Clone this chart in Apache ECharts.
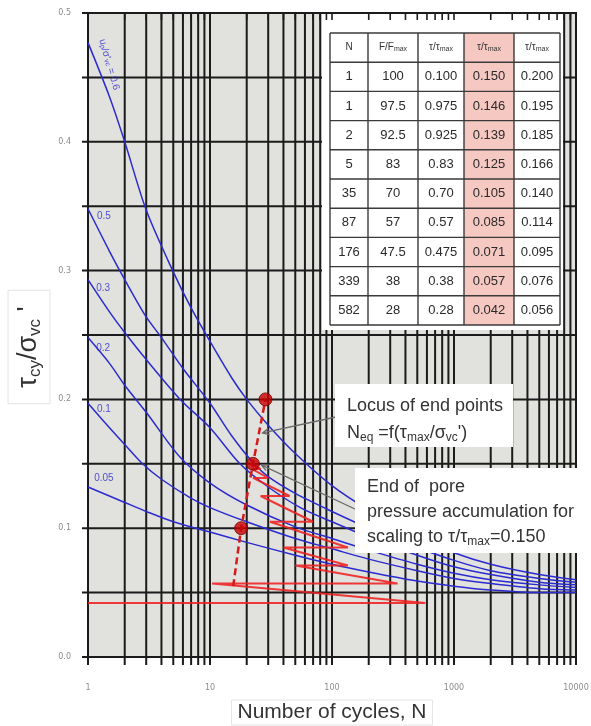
<!DOCTYPE html>
<html>
<head>
<meta charset="utf-8">
<script src="https://cdn.jsdelivr.net/npm/echarts@6/dist/echarts.min.js"></script>
<style>
  html, body { margin: 0; padding: 0; background: #fff; }
  #chart { width: 591px; height: 726px; }
</style>
</head>
<body>
<div id="chart"></div>
<script>
// ---- axis ranges and grid positions ----
const X_MIN = 1, X_MAX = 10000, Y_MIN = 0, Y_MAX = 0.5;
const xTickLabels = [1, 10, 100, 1000, 10000];
const xGridLines = [1, 2, 3, 4, 5, 6, 7, 8, 9,
                    10, 20, 30, 40, 50, 60, 70, 80, 90,
                    100, 200, 300, 400, 500, 600, 700, 800, 900,
                    1000, 2000, 3000, 4000, 5000, 6000, 7000, 8000, 9000, 10000];
const yGridLines = [0, 0.05, 0.1, 0.15, 0.2, 0.25, 0.3, 0.35, 0.4, 0.45, 0.5];

// ---- pore pressure contours  [N, tau_cy/sigma_vc'] ----
const contour06 = [[1,0.477],[1.5,0.435],[2,0.400],[3,0.347],[5,0.299],[7,0.271],[10,0.245],[15,0.217],[20,0.200],[30,0.180],[50,0.158],[100,0.133],[200,0.114],[500,0.093],[1000,0.081],[2000,0.072],[5000,0.064],[10000,0.060]];
const contour05 = [[1,0.348],[1.5,0.315],[2,0.293],[3,0.264],[4,0.248],[6,0.224],[10,0.197],[15,0.172],[22.5,0.151],[30,0.140],[50,0.127],[100,0.113],[200,0.100],[500,0.085],[1000,0.075],[2000,0.067],[5000,0.061],[10000,0.058]];
const contour03 = [[1,0.293],[1.5,0.268],[2,0.252],[3,0.231],[5.7,0.200],[10,0.178],[17.6,0.150],[30,0.132],[55,0.116],[100,0.105],[200,0.093],[500,0.079],[1000,0.070],[2000,0.064],[5000,0.058],[10000,0.056]];
const contour02 = [[1,0.248],[1.5,0.228],[2,0.211],[3,0.190],[5.7,0.155],[10,0.135],[20,0.118],[50,0.101],[100,0.092],[200,0.083],[500,0.072],[1000,0.065],[2000,0.060],[5000,0.056],[10000,0.054]];
const contour01 = [[1,0.197],[1.5,0.178],[2,0.165],[2.8,0.150],[4,0.138],[6.8,0.124],[10,0.116],[20,0.105],[50,0.092],[100,0.084],[200,0.076],[500,0.067],[1000,0.061],[2000,0.057],[5000,0.053],[10000,0.052]];
const contour005 = [[1,0.132],[2,0.120],[3,0.113],[5,0.105],[10,0.097],[20,0.089],[50,0.079],[100,0.072],[200,0.066],[500,0.059],[1000,0.055],[2000,0.052],[5000,0.050],[10000,0.050]];

// contour labels and where they sit
const contourLabelText = ['0.5', '0.3', '0.2', '0.1', '0.05'];
const contourLabelAt = [[1.35,0.342],[1.33,0.2865],[1.33,0.240],[1.35,0.192],[1.35,0.139]];
const topContourLabelAt = [1.49, 0.46];

// ---- load history scaled to tau/tau_max = 0.150 (zigzag accumulation path) ----
const pathN = [1, 582, 10.4, 345, 50, 135, 40, 135, 31, 70, 26, 45, 22.5, 30, 22, 26, 21.5, 22.5];
const pathV = [0.042, 0.042, 0.057, 0.057, 0.071, 0.071, 0.085, 0.085, 0.105, 0.105, 0.125, 0.125, 0.139, 0.139, 0.146, 0.146, 0.150, 0.150];

// ---- end points and their locus ----
const endN = [18, 22.5, 28.5];
const endV = [0.100, 0.150, 0.200];
const locusN = [15.5, 18, 22.5, 28.5];
const locusV = [0.055, 0.100, 0.150, 0.200];

// ---- load parcel table ----
const tableHead = ['N', 'F/F', 'τ/τ', 'τ/τ', 'τ/τ'];
const tableN = ['1', '1', '2', '5', '35', '87', '176', '339', '582'];
const tableF = ['100', '97.5', '92.5', '83', '70', '57', '47.5', '38', '28'];
const tableR100 = ['0.100', '0.975', '0.925', '0.83', '0.70', '0.57', '0.475', '0.38', '0.28'];
const tableR150 = ['0.150', '0.146', '0.139', '0.125', '0.105', '0.085', '0.071', '0.057', '0.042'];
const tableR200 = ['0.200', '0.195', '0.185', '0.166', '0.140', '0.114', '0.095', '0.076', '0.056'];

// ---- styles ----
const gridColor = '#1b1b1b';
const blue = '#2b2bd0';
const red = 'rgba(238,32,32,0.88)';
const textColor = '#333';
const FONT = 'Liberation Sans, Arial, sans-serif';

function vLine(params, api) {
  const n = api.value(0);
  const a = api.coord([n, Y_MAX]), b = api.coord([n, Y_MIN]);
  return { type: 'line', shape: { x1: a[0], y1: a[1], x2: b[0], y2: b[1] + 8 },
           style: { stroke: gridColor, lineWidth: 2 } };
}
function hLine(params, api) {
  const v = api.value(1);
  const a = api.coord([X_MIN, v]), b = api.coord([X_MAX, v]);
  return { type: 'line', shape: { x1: a[0] - 6, y1: a[1], x2: b[0] + 1, y2: b[1] },
           style: { stroke: gridColor, lineWidth: 2 } };
}
function topTick(params, api) {
  const n = api.value(0);
  const a = api.coord([n, Y_MAX]);
  return { type: 'line', shape: { x1: a[0], y1: a[1], x2: a[0], y2: a[1] + 7 },
           style: { stroke: gridColor, lineWidth: 1.6 } };
}

const contours = [contour06, contour05, contour03, contour02, contour01, contour005];

const series = [];
series.push({ type: 'custom', renderItem: vLine, data: xGridLines.map(n => [n, Y_MIN]),
              encode: { x: 0, y: 1 }, z: 2, silent: true, clip: false });
series.push({ type: 'custom', renderItem: hLine, data: yGridLines.map(v => [X_MIN, v]),
              encode: { x: 0, y: 1 }, z: 2, silent: true, clip: false });

contours.forEach(c => series.push({
  type: 'line', data: c, showSymbol: false, smooth: 0.3,
  lineStyle: { color: blue, width: 1.5 }, z: 4, silent: true
}));

series.push({ type: 'line', data: pathN.map((n, i) => [n, pathV[i]]), showSymbol: false,
              lineStyle: { color: red, width: 2 }, z: 6, silent: true });

series.push({ type: 'line', data: locusN.map((n, i) => [n, locusV[i]]), showSymbol: false,
              lineStyle: { color: '#d41a1a', width: 2.5, type: [7, 4] }, z: 7, silent: true });

series.push({ type: 'scatter', data: endN.map((n, i) => [n, endV[i]]), symbolSize: 13,
              itemStyle: { color: '#c80000', borderColor: '#7a0000', borderWidth: 1 }, z: 8, silent: true });

series.push({
  type: 'scatter', symbolSize: 0, z: 9, silent: true,
  data: contourLabelAt.map((p, i) => ({ value: p, label: { formatter: contourLabelText[i] } })),
  label: { show: true, position: 'inside', color: blue, fontSize: 10, fontFamily: FONT }
});
series.push({
  type: 'scatter', symbolSize: 0, z: 9, silent: true,
  data: [{ value: topContourLabelAt }],
  label: { show: true, position: 'inside', rotate: -74, color: blue, fontFamily: FONT,
           formatter: '{a|u}{s|p}{a|/σ\'}{s|vc}{a| = 0.6}',
           rich: { a: { fontSize: 10, color: blue, fontFamily: FONT },
                   s: { fontSize: 7, color: blue, fontFamily: FONT, verticalAlign: 'bottom' } } }
});

series.push({ type: 'custom', renderItem: topTick, data: xGridLines.map(n => [n, Y_MAX]),
              encode: { x: 0, y: 1 }, z: 25, silent: true, clip: false });
series.push({ type: 'custom', renderItem: hLine, data: [[X_MIN, Y_MAX]],
              encode: { x: 0, y: 1 }, z: 25, silent: true, clip: false });

const chart = echarts.init(document.getElementById('chart'));
chart.setOption({
  animation: false,
  backgroundColor: '#fff',
  grid: { left: 88, right: 15, top: 13, bottom: 69, containLabel: false, outerBoundsMode: 'none',
          show: true, backgroundColor: '#e1e1dd', borderWidth: 0 },
  xAxis: {
    type: 'log', logBase: 10, min: X_MIN, max: X_MAX,
    axisLine: { show: false }, axisTick: { show: false }, splitLine: { show: false },
    axisLabel: { fontSize: 8, color: '#8c8c8c', margin: 27, fontFamily: 'DejaVu Sans',
                 formatter: v => (xTickLabels.indexOf(Math.round(v)) >= 0 ? String(Math.round(v)) : '') },
    name: 'Number of cycles, N', nameLocation: 'middle', nameGap: 43,
    nameTextStyle: { fontSize: 21, color: textColor, fontFamily: FONT,
                     borderColor: '#e4e4e4', borderWidth: 1, padding: [2, 6, 2, 6] }
  },
  yAxis: {
    type: 'value', min: Y_MIN, max: Y_MAX, interval: 0.1,
    axisLine: { show: false }, axisTick: { show: false }, splitLine: { show: false },
    axisLabel: { fontSize: 8, color: '#8c8c8c', margin: 17, fontFamily: 'DejaVu Sans',
                 formatter: v => v.toFixed(1) }
  },
  series: series
});

// ---- y-axis title, table, annotation boxes and leader lines ----
const g = [];
g.push({ type: 'text', z: 22, x: 29, y: 347, rotation: Math.PI / 2,
         style: { text: '{m|τ}{s|cy}{m|/σ}{s|vc}{m| \'}', align: 'center', verticalAlign: 'middle',
                  textAlign: 'center', textVerticalAlign: 'middle',
                  borderColor: '#e4e4e4', borderWidth: 1, padding: [6, 16, 6, 16],
                  rich: { m: { fontSize: 27, fill: textColor, fontFamily: FONT, lineHeight: 30 },
                          s: { fontSize: 17, fill: textColor, fontFamily: FONT, verticalAlign: 'bottom', lineHeight: 18 } } } });

const colX = [330, 368, 418, 464, 514, 560];
const rowTop = 33, rowH = 29.2, rowCount = 10;
const tableCols = [tableN, tableF, tableR100, tableR150, tableR200];
g.push({ type: 'rect', z: 20, shape: { x: 322, y: 14, width: 241, height: 316 }, style: { fill: '#fff' } });
g.push({ type: 'rect', z: 20, shape: { x: colX[3], y: rowTop, width: colX[4] - colX[3], height: rowH * (rowCount) },
         style: { fill: '#f6c8c2' } });
for (let r = 0; r <= rowCount; r++) {
  const y = rowTop + r * rowH;
  g.push({ type: 'line', z: 21, shape: { x1: colX[0], y1: y, x2: colX[5], y2: y },
           style: { stroke: '#3a3a3a', lineWidth: 1.4 } });
}
colX.forEach(x => g.push({ type: 'line', z: 21,
  shape: { x1: x, y1: rowTop, x2: x, y2: rowTop + rowH * rowCount }, style: { stroke: '#3a3a3a', lineWidth: 1.4 } }));
const headRich = {
  a: { fontSize: 10, fill: textColor, fontFamily: FONT },
  s: { fontSize: 7, fill: textColor, fontFamily: FONT, verticalAlign: 'bottom' }
};
tableHead.forEach((h, c) => {
  const cx = (colX[c] + colX[c + 1]) / 2, cy = rowTop + rowH / 2;
  g.push({ type: 'text', z: 22, x: cx, y: cy,
           style: { text: c === 0 ? '{a|' + h + '}' : '{a|' + h + '}{s|max}', rich: headRich,
                    align: 'center', verticalAlign: 'middle', textAlign: 'center', textVerticalAlign: 'middle' } });
});
tableCols.forEach((col, c) => {
  col.forEach((t, r) => {
    const cx = (colX[c] + colX[c + 1]) / 2, cy = rowTop + (r + 1) * rowH + rowH / 2;
    g.push({ type: 'text', z: 22, x: cx, y: cy,
             style: { text: t, fill: '#2a2a2a', fontSize: 13, fontFamily: FONT,
                      align: 'center', verticalAlign: 'middle', textAlign: 'center', textVerticalAlign: 'middle' } });
  });
});

const noteRich = {
  a: { fontSize: 18, fill: textColor, fontFamily: FONT, lineHeight: 22 },
  s: { fontSize: 12, fill: textColor, fontFamily: FONT, verticalAlign: 'bottom', lineHeight: 14 }
};
function noteLine(x, y, text) {
  return { type: 'text', z: 22, x: x, y: y,
           style: { text: text, rich: noteRich, align: 'left', verticalAlign: 'middle',
                    textAlign: 'left', textVerticalAlign: 'middle' } };
}
// box 1: locus of end points
g.push({ type: 'rect', z: 20, shape: { x: 335, y: 384, width: 178, height: 63 }, style: { fill: '#fff' } });
g.push(noteLine(347, 406, '{a|Locus of end points}'));
g.push(noteLine(347, 433, '{a|N}{s|eq}{a| =f(τ}{s|max}{a|/σ}{s|vc}{a|\')}'));
// box 2: end of pore pressure accumulation
g.push({ type: 'rect', z: 20, shape: { x: 355, y: 468, width: 236, height: 85 }, style: { fill: '#fff' } });
g.push(noteLine(367, 487, '{a|End of  pore}'));
g.push(noteLine(367, 512, '{a|pressure accumulation for}'));
g.push(noteLine(367, 537, '{a|scaling to τ/τ}{s|max}{a|=0.150}'));

// leader lines pointing at the locus
function leader(fromX, fromY, n, v) {
  const p = chart.convertToPixel({ gridIndex: 0 }, [n, v]);
  const ang = Math.atan2(fromY - p[1], fromX - p[0]);
  const L = 7, w = 0.45;
  g.push({ type: 'line', z: 19, shape: { x1: fromX, y1: fromY, x2: p[0], y2: p[1] },
           style: { stroke: '#6a6a6a', lineWidth: 1.3 } });
  g.push({ type: 'polyline', z: 19,
           shape: { points: [[p[0] + L * Math.cos(ang + w), p[1] + L * Math.sin(ang + w)], [p[0], p[1]],
                             [p[0] + L * Math.cos(ang - w), p[1] + L * Math.sin(ang - w)]] },
           style: { stroke: '#6a6a6a', lineWidth: 1.3, fill: null } });
}
leader(336, 417, 27, 0.174);
leader(357, 510, 26.5, 0.149);

chart.setOption({ graphic: { elements: g } });
</script>
</body>
</html>
